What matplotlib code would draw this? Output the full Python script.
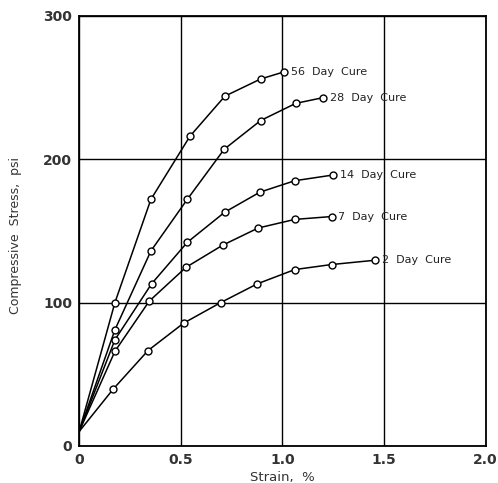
import matplotlib
matplotlib.use("Agg")
import matplotlib.pyplot as plt

plt.rcParams['font.family'] = ['Liberation Sans', 'DejaVu Sans']

# strain (%) and compressive stress (psi), per curing age
labels = ['56  Day  Cure', '28  Day  Cure', '14  Day  Cure', '7  Day  Cure', '2  Day  Cure']

strain_56 = [0.176, 0.353, 0.545, 0.717, 0.893, 1.009]
stress_56 = [100, 172, 216, 244, 256, 261]

strain_28 = [0.176, 0.353, 0.532, 0.714, 0.893, 1.066, 1.201]
stress_28 = [81, 136, 172, 207, 227, 239, 243]

strain_14 = [0.176, 0.356, 0.532, 0.716, 0.889, 1.061, 1.25]
stress_14 = [74, 113, 142, 163, 177, 185, 189]

strain_7 = [0.176, 0.345, 0.525, 0.706, 0.881, 1.061, 1.242]
stress_7 = [66, 101, 124.5, 140, 152, 158, 160]

strain_2 = [0.167, 0.339, 0.514, 0.697, 0.876, 1.061, 1.242, 1.455]
stress_2 = [39.5, 66.5, 85.6, 100, 113, 123, 126.5, 129.5]

# every curve starts from the same point on the stress axis
start_strain = 0.0
start_stress = 10

series = [
    (strain_56, stress_56),
    (strain_28, stress_28),
    (strain_14, stress_14),
    (strain_7, stress_7),
    (strain_2, stress_2),
]

fig = plt.figure(figsize=(4.98, 4.83), dpi=100)
ax = fig.add_axes([0.159, 0.077, 0.816, 0.89])

for (xs, ys), lab in zip(series, labels):
    ax.plot([start_strain] + xs, [start_stress] + ys, color='black', lw=1.1, zorder=3)
    ax.plot(xs, ys, 'o', ms=5, mfc='white', mec='black', mew=1.0, zorder=4)
    ax.annotate(lab, (xs[-1], ys[-1]), xytext=(5, 0), textcoords='offset points',
                va='center', ha='left', fontsize=8, color='#222222',
                family=['DejaVu Sans'])

ax.set_xlim(0, 2.0)
ax.set_ylim(0, 300)
ax.set_xticks([0, 0.5, 1.0, 1.5, 2.0])
ax.set_xticklabels(['0', '0.5', '1.0', '1.5', '2.0'])
ax.set_yticks([0, 100, 200, 300])
ax.tick_params(length=0, labelsize=10, labelcolor='#333333')
ax.tick_params(axis='x', pad=5)
ax.tick_params(axis='y', pad=5)
for t in ax.get_xticklabels() + ax.get_yticklabels():
    t.set_fontweight('bold')
    t.set_family(['DejaVu Sans'])

ax.grid(True, color='black', lw=1.0)
ax.set_axisbelow(True)
for sp in ax.spines.values():
    sp.set_linewidth(1.3)
    sp.set_color('black')

ax.set_xlabel('Strain,  %', fontsize=9.5, color='#333333', family=['DejaVu Sans'],
              va='center')
ax.xaxis.set_label_coords(0.5, -0.074)
ax.set_ylabel('Compressive  Stress,  psi', fontsize=9, color='#333333',
              family=['DejaVu Sans'], va='center')
ax.yaxis.set_label_coords(-0.156, 0.49)

fig.savefig('out.png', dpi=100)
